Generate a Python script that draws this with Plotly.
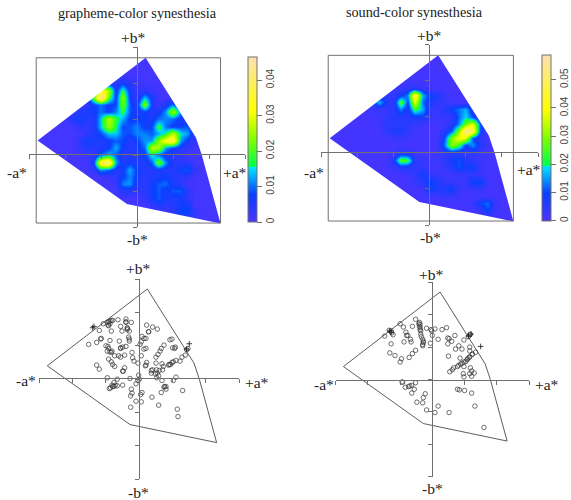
import plotly.graph_objects as go

W, H = 571, 500
A_GRID = list(range(-140, 130, 10))
B_GRID = list(range(140, -110, -10))

# density, in thousandths, rows from b*=140 down to b*=-100
GRAPHEME_Z = [
[1,1,1,1,1,1,1,1,1,1,1,1,1,1,1,1,1,1,1,1,1,1,1,1,1,1,1],
[1,1,1,1,1,1,1,1,1,1,1,1,1,1,1,1,1,1,1,1,1,1,1,1,1,1,1],
[1,1,1,1,1,1,1,1,1,1,1,1,1,1,1,1,1,1,1,1,1,1,1,1,1,1,1],
[1,1,1,1,1,1,1,1,1,1,1,1,2,1,1,1,1,1,1,1,1,1,1,1,1,1,1],
[1,1,1,1,1,1,1,1,1,3,4,4,6,4,2,1,1,1,1,1,1,1,1,1,1,1,1],
[1,1,1,1,1,1,1,1,6,34,26,6,18,6,2,4,2,1,1,1,1,1,1,1,1,1,1],
[1,1,1,1,1,1,1,4,22,46,20,7,24,7,3,14,6,1,1,1,1,1,1,1,1,1,1],
[1,1,1,1,1,1,1,3,7,10,7,8,22,9,5,24,6,2,6,10,4,1,1,1,1,1,1],
[1,1,1,1,1,3,5,6,7,10,7,11,18,9,5,7,5,6,12,26,11,3,1,1,1,1,1],
[1,1,1,1,1,5,7,5,5,14,27,18,13,7,7,7,6,10,11,10,6,4,1,1,1,1,1],
[1,1,1,1,1,1,4,3,5,14,25,17,8,9,11,7,8,19,10,7,8,9,2,1,1,1,1],
[1,1,1,1,1,1,1,4,5,8,14,14,9,8,11,11,9,13,17,28,15,12,3,1,1,1,1],
[1,1,1,1,1,1,4,7,6,5,7,9,8,5,7,12,12,24,34,38,12,6,3,1,1,1,1],
[1,1,1,1,1,1,3,5,4,5,7,13,7,5,6,10,27,26,12,8,5,3,1,1,1,1,1],
[1,1,1,1,1,1,1,2,3,9,14,9,4,4,5,7,16,10,5,4,3,1,1,1,1,1,1],
[1,1,1,1,1,1,1,1,7,38,42,13,5,7,5,5,9,23,11,5,4,4,1,1,1,1,1],
[1,1,1,1,1,1,1,1,3,12,10,5,7,13,7,5,5,6,5,4,8,9,3,1,1,1,1],
[1,1,1,1,1,1,1,1,1,1,2,4,7,11,7,4,5,6,7,5,4,3,1,1,1,1,1],
[1,1,1,1,1,1,1,1,1,1,1,2,11,12,5,4,7,9,10,6,4,1,1,1,1,1,1],
[1,1,1,1,1,1,1,1,1,1,1,1,5,5,3,4,7,9,6,9,9,4,1,1,1,1,1],
[1,1,1,1,1,1,1,1,1,1,1,1,1,1,1,3,6,9,6,5,7,3,1,1,1,1,1],
[1,1,1,1,1,1,1,1,1,1,1,1,1,1,1,1,3,5,4,4,7,7,1,1,1,1,1],
[1,1,1,1,1,1,1,1,1,1,1,1,1,1,1,1,1,1,1,4,8,8,3,1,1,1,1],
[1,1,1,1,1,1,1,1,1,1,1,1,1,1,1,1,1,1,1,1,1,1,1,1,1,1,1],
[1,1,1,1,1,1,1,1,1,1,1,1,1,1,1,1,1,1,1,1,1,1,1,1,1,1,1],
]
SOUND_Z = [
[1,1,1,1,1,1,1,1,1,1,1,1,1,1,1,1,1,1,1,1,1,1,1,1,1,1,1],
[1,1,1,1,1,1,1,1,1,1,1,1,1,1,1,1,1,1,1,1,1,1,1,1,1,1,1],
[1,1,1,1,1,1,1,1,1,1,1,1,1,1,1,1,1,1,1,1,1,1,1,1,1,1,1],
[1,1,1,1,1,1,1,1,1,1,1,1,1,1,1,1,1,1,1,1,1,1,1,1,1,1,1],
[1,1,1,1,1,1,1,1,1,1,1,2,1,1,1,1,1,1,1,1,1,1,1,1,1,1,1],
[1,1,1,1,1,1,1,1,1,2,3,4,5,3,1,1,1,1,1,1,1,1,1,1,1,1,1],
[1,1,1,1,1,1,1,3,4,4,8,14,48,16,9,7,3,1,1,1,1,1,1,1,1,1,1],
[1,1,1,1,1,1,2,18,8,4,27,10,38,12,7,5,3,2,1,1,1,1,1,1,1,1,1],
[1,1,1,1,1,1,3,3,3,5,14,6,24,16,4,3,5,10,13,17,4,1,1,1,1,1,1],
[1,1,1,1,1,1,1,2,4,6,6,5,7,9,3,3,3,4,12,19,11,3,1,1,1,1,1],
[1,1,1,1,1,1,1,2,4,5,5,5,3,2,1,1,1,6,14,28,38,9,1,1,1,1,1],
[1,1,1,1,1,1,1,1,4,7,7,4,2,1,1,1,5,12,30,57,48,7,2,1,1,1,1],
[1,1,1,1,1,1,1,1,1,3,3,2,1,1,1,1,9,30,40,36,10,4,1,1,1,1,1],
[1,1,1,1,1,1,1,1,1,1,1,1,1,1,1,1,12,30,24,9,15,6,2,1,1,1,1],
[1,1,1,1,1,1,1,1,1,2,6,5,2,1,1,2,4,5,4,4,4,2,1,1,1,1,1],
[1,1,1,1,1,1,1,1,1,7,27,24,5,3,2,2,4,8,11,6,4,2,1,1,1,1,1],
[1,1,1,1,1,1,1,1,1,3,6,6,4,4,2,1,3,6,11,8,10,3,1,1,1,1,1],
[1,1,1,1,1,1,1,1,1,1,1,2,4,9,4,2,2,2,3,3,4,2,1,1,1,1,1],
[1,1,1,1,1,1,1,1,1,1,1,1,3,5,10,7,4,3,2,3,10,10,2,1,1,1,1],
[1,1,1,1,1,1,1,1,1,1,1,1,1,2,10,7,7,10,3,2,3,3,1,1,1,1,1],
[1,1,1,1,1,1,1,1,1,1,1,1,1,1,2,2,3,3,2,1,1,1,1,1,1,1,1],
[1,1,1,1,1,1,1,1,1,1,1,1,1,1,1,1,1,1,1,1,3,10,13,3,1,1,1],
[1,1,1,1,1,1,1,1,1,1,1,1,1,1,1,1,1,1,1,1,1,4,10,3,1,1,1],
[1,1,1,1,1,1,1,1,1,1,1,1,1,1,1,1,1,1,1,1,1,1,1,1,1,1,1],
[1,1,1,1,1,1,1,1,1,1,1,1,1,1,1,1,1,1,1,1,1,1,1,1,1,1,1],
]

GAMUT_A = [12, 82, 90, 116, -14, -138, 12]
GAMUT_B = [135, 24, 0, -95, -68, 20, 135]
FRAME_A = [-140, 116]
FRAME_B = [-94.5, 135]

GRAPHEME_A = [-60,-54,-48,-47,-46,-44,-44,-46,-42,-40,-32,-42,-28,-20,-20,-12,-20,-18,-18,-18,-26,-15,-16,-15,-15,-57,-58,-64,-76,-30,-44,-50,-47,-46,-48,-44,-42,-41,-28,-25,-28,-20,-37,-31,-28,-22,-11,-10,-8,-2,-46,-42,-40,-37,-64,-60,-22,-25,-24,-48,-33,-14,-38,-41,-36,-38,-45,-43,-40,-33,-25,-5,-1,0,-2,-12,-13,-11,4,2,-5,3,19,-13,11,20,27,14,14,4,10,7,3,1,7,10,3,11,9,10,46,49,37,33,31,28,25,54,25,34,18,26,24,18,20,26,30,35,36,44,45,47,49,51,55,61,64,69,71,73,50,53,55,51,27,29,34,37,38,40,65,40,33,29,57,58]
GRAPHEME_B = [73,83,85,81,86,87,83,80,88,88,89,72,79,90,86,85,85,77,74,76,72,72,63,60,57,61,60,55,52,57,58,50,49,46,42,41,40,42,46,48,47,49,35,35,33,36,40,32,27,24,30,26,22,19,21,15,17,12,12,2,0,1,-5,-9,-9,-11,-14,-13,-11,-10,-9,-7,6,0,-2,-15,-25,-21,-20,-23,-33,-34,-27,-42,81,78,75,71,71,64,61,61,56,52,45,46,35,25,20,21,59,60,51,46,42,37,33,48,24,23,9,2,8,13,14,14,13,14,19,21,22,22,25,26,28,27,33,36,44,46,47,46,3,-2,9,5,-2,-12,-11,-11,-17,-15,-20,-39,-45,-56,-61,-53]
GRAPHEME_PLUS_A = [-70,-68,75,71]
GRAPHEME_PLUS_B = [77,79,53,45]

SOUND_A = [-74,-67,-64,-63,-61,-64,-50,-45,-31,-26,-41,-40,-38,-34,-33,-44,-21,-20,-19,-20,-19,-19,-18,-18,-17,-15,-14,-14,-15,-15,-9,-2,-1,4,0,-3,9,15,22,-66,-58,-48,-50,-36,-31,-26,24,26,24,35,30,49,56,58,59,41,36,46,58,58,25,43,62,67,62,58,57,55,54,52,49,46,44,41,39,33,31,27,49,59,61,48,58,65,49,61,-46,-47,-42,-37,-35,-32,-26,-28,-32,-11,-14,-24,-15,-9,4,9,26,39,42,50,61,66,80]
SOUND_B = [67,76,75,72,69,55,86,81,82,93,73,68,68,62,58,58,86,88,85,82,80,77,75,70,66,62,59,57,52,54,79,77,75,78,68,56,62,77,80,41,37,32,27,34,40,45,64,63,55,68,59,61,66,69,70,52,47,47,50,44,36,33,39,42,39,35,34,32,31,28,27,25,24,22,20,18,15,12,20,18,13,9,9,10,4,5,-4,-4,-12,-11,-10,-9,-5,-15,-21,-22,-28,-35,-36,-47,-51,-41,-51,-15,-16,-17,-21,-41,-74]
SOUND_PLUS_A = [-66,-64,56,60,75]
SOUND_PLUS_B = [75,73,67,70,51]

TOPO = [[0, "#4A34FF"], [1/6, "#0A40FF"], [1/3, "#00E5FF"], [1/3, "#00FF4D"],
        [0.5, "#80FF00"], [2/3, "#FFFF00"], [1, "#FFE0B3"]]
GREY = "#707070"
DARK = "#333333"
SERIF = "Liberation Serif"
SANS = "Liberation Sans"


def fx(px):
    return px / W


def fy(py):
    return 1 - py / H


fig = go.Figure()


def axes(n, x0, x1, y0, y1, yr, yticks, zx, zy):
    s = "" if n == 1 else str(n)
    fig.update_layout(**{
        "xaxis" + s: dict(domain=[fx(x0), fx(x1)], range=[-150, 150], anchor="free",
                          position=fy(zy), showgrid=False, zeroline=False,
                          showline=True, linecolor=GREY, linewidth=1, ticks="outside",
                          ticklen=4, tickwidth=1, tickcolor=GREY,
                          tickvals=[-150, -100, -50, 0, 50, 100, 150],
                          showticklabels=False, layer="above traces"),
        "yaxis" + s: dict(domain=[fy(y1), fy(y0)], range=yr, anchor="free",
                          position=fx(zx), showgrid=False, zeroline=False,
                          showline=True, linecolor=GREY, linewidth=1, ticks="outside",
                          ticklen=4, tickwidth=1, tickcolor=GREY,
                          tickvals=yticks, showticklabels=False, layer="above traces"),
    })


def heat(n, z, zmax, ticks, bar_x, bar_y0, bar_y1, yr):
    s = "" if n == 1 else str(n)
    fig.add_trace(go.Heatmap(
        x=A_GRID, y=B_GRID, z=[[v / 1000 for v in row] for row in z],
        xaxis="x" + s, yaxis="y" + s, zmin=0, zmax=zmax, zsmooth="best",
        colorscale=TOPO, hoverinfo="skip",
        colorbar=dict(x=fx(bar_x), xanchor="left", y=fy(bar_y1), yanchor="bottom",
                      len=(bar_y1 - bar_y0) / H, lenmode="fraction", thickness=9,
                      thicknessmode="pixels", xpad=0, ypad=0, outlinecolor=GREY,
                      outlinewidth=1, ticks="outside", ticklen=5, tickcolor=GREY,
                      tickvals=ticks, ticktext=[f"{t:g}" for t in ticks], tickangle=-90,
                      tickfont=dict(family=SANS, size=10, color="#444444")),
    ))
    # white outside the gamut outline, ring joined to the outline by a slit
    xs = [-150, 150, 150, -150, -150] + GAMUT_A[::-1] + [-150]
    ys = [yr[1], yr[1], yr[0], yr[0], yr[1]] + GAMUT_B[::-1] + [yr[1]]
    fig.add_trace(go.Scatter(x=xs, y=ys, xaxis="x" + s, yaxis="y" + s, mode="none",
                             fill="toself", fillcolor="white", hoverinfo="skip"))
    fig.add_shape(type="rect", xref="x" + s, yref="y" + s, x0=FRAME_A[0], x1=FRAME_A[1],
                  y0=FRAME_B[0], y1=FRAME_B[1], line=dict(color=GREY, width=1))


def scatter(n, a, b, pa, pb):
    s = "" if n == 1 else str(n)
    fig.add_trace(go.Scatter(x=GAMUT_A, y=GAMUT_B, xaxis="x" + s, yaxis="y" + s,
                             mode="lines", line=dict(color=DARK, width=0.8), hoverinfo="skip"))
    fig.add_trace(go.Scatter(x=a, y=b, xaxis="x" + s, yaxis="y" + s, mode="markers",
                             marker=dict(symbol="circle-open", size=4.5, color=DARK,
                                         line=dict(color=DARK, width=0.7)), hoverinfo="skip"))
    fig.add_trace(go.Scatter(x=pa, y=pb, xaxis="x" + s, yaxis="y" + s, mode="markers",
                             marker=dict(symbol="cross-thin-open", size=4, color="#111111",
                                         line=dict(color="#111111", width=0.8)), hoverinfo="skip"))


axes(1, 29, 245, 47, 227, [-100, 150], [-100, -50, 0, 50, 100, 150], 136.7, 154)
axes(2, 321, 538, 44.5, 225, [-100, 150], [-100, -50, 0, 50, 100, 150], 429.3, 152.3)
axes(3, 39.3, 239.3, 279, 479.3, [-150, 150], [-150, -100, -50, 0, 50, 100, 150], 139, 378.3)
axes(4, 335.7, 529, 282.3, 476.7, [-150, 150], [-150, -100, -50, 0, 50, 100, 150], 431.7, 380)

heat(1, GRAPHEME_Z, 0.0465, [0, 0.01, 0.02, 0.03, 0.04], 247.7, 57, 222, [-100, 150])
heat(2, SOUND_Z, 0.0589, [0, 0.01, 0.02, 0.03, 0.04, 0.05], 541.7, 55, 220.7, [-100, 150])
scatter(3, GRAPHEME_A, GRAPHEME_B, GRAPHEME_PLUS_A, GRAPHEME_PLUS_B)
scatter(4, SOUND_A, SOUND_B, SOUND_PLUS_A, SOUND_PLUS_B)

LABELS = [
    ("grapheme-color synesthesia", 137.5, 12.5, 14.2), ("sound-color synesthesia", 414.5, 11.5, 14.2),
    ("+b*", 133, 38, 15.5), ("-b*", 137, 239, 15.5), ("-a*", 17, 172, 15.5), ("+a*", 235, 172, 15.5),
    ("+b*", 429, 35, 15.5), ("-b*", 430, 237, 15.5), ("-a*", 314, 172, 15.5), ("+a*", 529, 169, 15.5),
    ("+b*", 138, 268, 15.5), ("-b*", 138, 492, 15.5), ("-a*", 26, 380, 15.5), ("+a*", 257, 382, 15.5),
    ("+b*", 431, 274, 15.5), ("-b*", 432, 488, 15.5), ("-a*", 324, 384, 15.5), ("+a*", 547, 384, 15.5),
]
for text, x, y, size in LABELS:
    fig.add_annotation(text=text, x=fx(x), y=fy(y), xref="paper", yref="paper",
                       xanchor="center", yanchor="middle", showarrow=False,
                       font=dict(family=SERIF, size=size, color="#222222"))

fig.update_layout(width=W, height=H, margin=dict(l=0, r=0, t=0, b=0), showlegend=False,
                  paper_bgcolor="white", plot_bgcolor="rgba(0,0,0,0)")
fig.write_html("out.html", config={"displayModeBar": False},
               post_script="document.body.style.margin='0';document.body.style.overflow='hidden';")
